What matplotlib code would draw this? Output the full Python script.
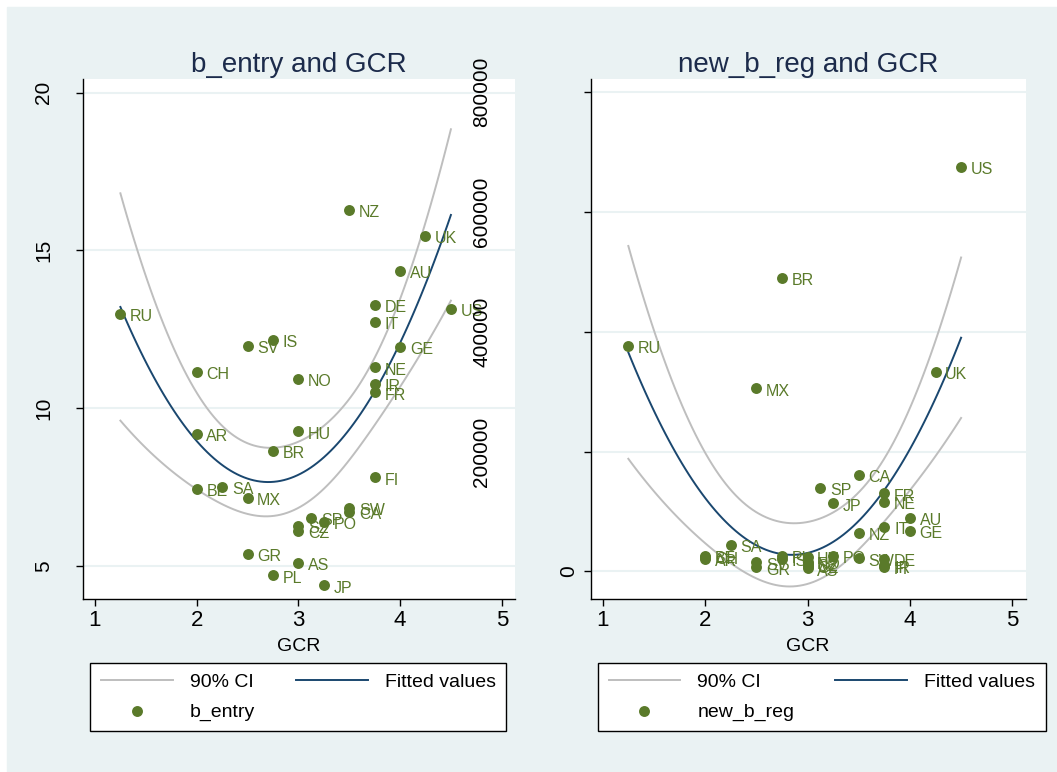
import numpy as np
import matplotlib
matplotlib.use("Agg")
import matplotlib.pyplot as plt
from matplotlib.patches import Rectangle

plt.rcParams['font.family'] = ['Liberation Sans', 'DejaVu Sans']

# country codes and GCR score (same for both panels)
countries = ['RU', 'AR', 'BE', 'CH', 'SA', 'SV', 'MX', 'GR', 'BR', 'PL', 'IS',
             'HU', 'NO', 'SZ', 'CZ', 'AS', 'SP', 'JP', 'PO', 'SW', 'CA', 'NZ',
             'DE', 'FR', 'NE', 'IT', 'IR', 'FI', 'AU', 'GE', 'UK', 'US']
gcr = [1.25, 2, 2, 2, 2.25, 2.5, 2.5, 2.5, 2.75, 2.75, 2.75,
       3, 3, 3, 3, 3, 3.125, 3.25, 3.25, 3.5, 3.5, 3.5,
       3.75, 3.75, 3.75, 3.75, 3.75, 3.75, 4, 4, 4.25, 4.5]

b_entry = [12.98, 9.18, 7.44, 11.16, 7.49, 11.98, 7.15, 5.37, 8.65, 4.69, 12.16,
           9.26, 10.92, 6.27, 6.11, 5.09, 6.51, 4.38, 6.38, 6.83, 6.70, 16.28,
           13.27, 10.50, 11.29, 12.74, 10.76, 7.80, 14.36, 11.95, 15.46, 13.15]

new_b_reg = [376000, 20700, 26000, 24000, 44000, 15000, 305600, 6700, 489500, 26000, 20600,
             24500, 16000, 12000, 9500, 5000, 138900, 113300, 26200, 21700, 160500, 63900,
             20600, 130000, 116100, 74500, 10000, 7000, 88900, 67800, 333300, 674500]

T_90 = 1.699  # t(29), two-sided 90%

green = '#5A7A2A'
navy = '#1A476F'
ci_gray = '#BEBEBE'
bg = '#EAF2F3'


def qfitci(x, y):
    x = np.asarray(x, float)
    y = np.asarray(y, float)
    X = np.column_stack([np.ones_like(x), x, x ** 2])
    beta, *_ = np.linalg.lstsq(X, y, rcond=None)
    resid = y - X @ beta
    s2 = resid @ resid / (len(x) - 3)
    xtx_inv = np.linalg.inv(X.T @ X)
    xs = np.linspace(x.min(), x.max(), 100)
    Xs = np.column_stack([np.ones_like(xs), xs, xs ** 2])
    fit = Xs @ beta
    se = np.sqrt(s2 * np.einsum('ij,jk,ik->i', Xs, xtx_inv, Xs))
    return xs, fit, fit - T_90 * se, fit + T_90 * se


fig = plt.figure(figsize=(10.57, 7.72), dpi=100)
fig.patch.set_facecolor('white')
fig.patches.append(Rectangle((7 / 1057, 0), 1 - 7 / 1057, 1 - 7 / 772,
                             transform=fig.transFigure, color=bg, zorder=-10))

ax1 = fig.add_axes([0.0785, 0.2241, 0.4087, 0.6736])
ax2 = fig.add_axes([0.5588, 0.2241, 0.4115, 0.6736])


def panel(ax, y, title, name, yticks, ylim):
    xs, fit, lo, hi = qfitci(gcr, y)
    l_ci, = ax.plot(xs, lo, color=ci_gray, lw=1.4, zorder=2)
    ax.plot(xs, hi, color=ci_gray, lw=1.4, zorder=2)
    l_fit, = ax.plot(xs, fit, color=navy, lw=1.4, zorder=3)
    pts = ax.scatter(gcr, y, s=62, color=green, zorder=4, linewidths=0)
    for c, xv, yv in zip(countries, gcr, y):
        ax.annotate(c, (xv, yv), xytext=(7, -2), textcoords='offset points',
                    ha='left', va='center', fontsize=11.5, color=green, zorder=5)
    ax.set_xlim(0.882, 5.13)
    ax.set_ylim(*ylim)
    ax.set_xticks([1, 2, 3, 4, 5])
    ax.set_yticks(yticks)
    ax.set_facecolor('white')
    for s in ['top', 'right']:
        ax.spines[s].set_visible(False)
    for s in ['left', 'bottom']:
        ax.spines[s].set_linewidth(1.0)
    ax.grid(axis='y', color=bg, lw=1.5, zorder=0)
    ax.set_axisbelow(True)
    ax.tick_params(length=5, width=1.0, labelsize=15)
    ax.tick_params(axis='x', pad=3, labelsize=16)
    ax.set_xlabel('GCR', fontsize=14, labelpad=5)
    ax.set_title(title, fontsize=20, color='#1C2B4B', pad=5)
    leg = ax.legend([l_ci, pts, l_fit], ['90% CI', name, 'Fitted values'],
                    ncol=2, loc='upper left', bbox_to_anchor=(0.0165, -0.123),
                    fontsize=14, frameon=True, fancybox=False, borderpad=0.55,
                    labelspacing=0.6, handlelength=3.7, handletextpad=0.87,
                    columnspacing=2.1, borderaxespad=0, framealpha=1)
    leg.get_frame().set_facecolor('white')
    leg.get_frame().set_edgecolor('black')
    leg.get_frame().set_linewidth(1.0)
    return ax


panel(ax1, b_entry, 'b_entry and GCR', 'b_entry', [5, 10, 15, 20], (3.944, 20.44))
panel(ax2, new_b_reg, 'new_b_reg and GCR', 'new_b_reg',
      [0, 200000, 400000, 600000, 800000], (-46100, 821700))
ax2.set_yticklabels(['0', '200000', '400000', '600000', '800000'])

for ax in (ax1, ax2):
    for lbl in ax.get_yticklabels():
        lbl.set_rotation(90)
        lbl.set_va('center')

for t in ax1.yaxis.get_major_ticks():
    t.set_pad(16.5)
for i, t in enumerate(ax2.yaxis.get_major_ticks()):
    t.set_pad(4 if i == 0 else 66.5)

fig.savefig('out.png', dpi=100)
